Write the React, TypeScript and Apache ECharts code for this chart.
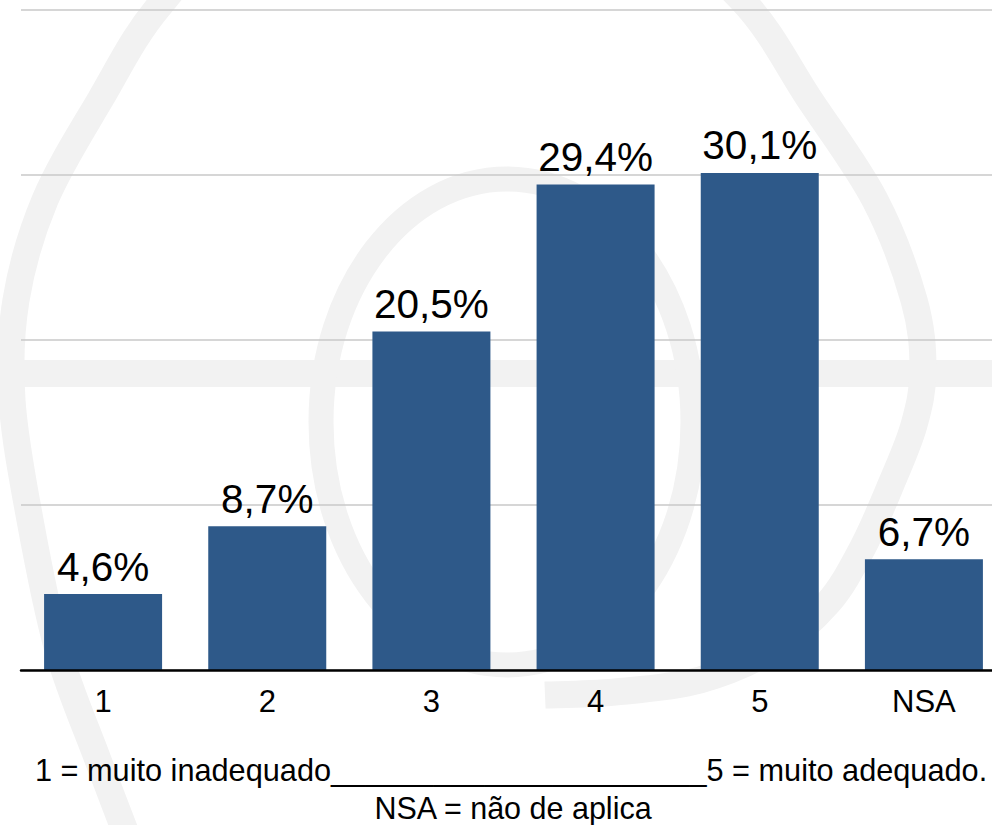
import React, { useEffect, useRef } from "react";
import * as echarts from "echarts";

const categories: string[] = ["1", "2", "3", "4", "5", "NSA"];
const percentValues: number[] = [4.6, 8.7, 20.5, 29.4, 30.1, 6.7];
const yMin = 0;
const yMax = 40;
const yInterval = 10;
const footnoteLine1 = "1 = muito inadequado______________________5 = muito adequado.";
const footnoteLine2 = "NSA = não de aplica";

// faint watermark swoosh (decoration only)
const swooshPts: [number, number][] = [
  [140, 870], [98, 760], [58, 650], [30, 520], [12, 400], [16, 300], [45, 200],
  [100, 100], [160, 5], [260, -90], [450, -140], [630, -90], [742, 0], [810, 100],
  [875, 200], [914, 300], [923, 370], [914, 425], [892, 482], [863, 547],
  [828, 603], [775, 648], [700, 680], [615, 692], [545, 695],
];

function catmullRomPath(pts: [number, number][]): string {
  let d = `M ${pts[0][0]} ${pts[0][1]}`;
  for (let i = 0; i < pts.length - 1; i++) {
    const p0 = pts[i - 1] || pts[i];
    const p1 = pts[i];
    const p2 = pts[i + 1];
    const p3 = pts[i + 2] || p2;
    const c1x = p1[0] + (p2[0] - p0[0]) / 6;
    const c1y = p1[1] + (p2[1] - p0[1]) / 6;
    const c2x = p2[0] - (p3[0] - p1[0]) / 6;
    const c2y = p2[1] - (p3[1] - p1[1]) / 6;
    d += ` C ${c1x} ${c1y} ${c2x} ${c2y} ${p2[0]} ${p2[1]}`;
  }
  return d;
}

let registered = false;
function ensureShapes() {
  if (registered) return;
  echarts.graphic.registerShape(
    "swoosh",
    (echarts.graphic as any).extendPath(catmullRomPath(swooshPts), {})
  );
  registered = true;
}

const fmt = (v: number) => `${v.toFixed(1).replace(".", ",")}%`;

export default function App() {
  const ref = useRef<HTMLDivElement>(null);

  useEffect(() => {
    if (!ref.current) return;
    ensureShapes();
    const chart = echarts.init(ref.current, undefined, { renderer: "svg" });
    const wm = "#f2f2f2";
    const font = "Liberation Sans, Arial, Helvetica, sans-serif";
    chart.setOption({
      animation: false,
      backgroundColor: "#ffffff",
      grid: { left: 21, top: 9.5, width: 985, height: 660.5, containLabel: false },
      xAxis: {
        type: "category",
        data: categories,
        axisLine: { show: true, lineStyle: { color: "#000000", width: 2.5 } },
        axisTick: { show: false },
        axisLabel: { fontSize: 31, color: "#000000", fontFamily: font, margin: 16 },
        z: 5,
      },
      yAxis: {
        type: "value",
        min: yMin,
        max: yMax,
        interval: yInterval,
        axisLabel: { show: false },
        axisLine: { show: false },
        axisTick: { show: false },
        splitLine: { lineStyle: { color: "#c9c9c9", width: 1.5 } },
      },
      series: [
        {
          type: "bar",
          data: percentValues,
          barWidth: 118,
          itemStyle: { color: "#2e5989" },
          label: {
            show: true,
            position: "top",
            distance: 7,
            fontSize: 40.5,
            color: "#000000",
            fontFamily: font,
            formatter: (p: any) => fmt(p.value),
          },
          z: 3,
        },
      ],
      graphic: [
        {
          type: "rect",
          z: -10,
          silent: true,
          shape: { x: 0, y: 360, width: 1010, height: 27 },
          style: { fill: wm },
        },
        {
          type: "ellipse",
          z: -10,
          silent: true,
          shape: { cx: 507, cy: 422, rx: 186, ry: 243 },
          style: { fill: "none", stroke: wm, lineWidth: 25 },
        },
        {
          type: "swoosh",
          z: -10,
          silent: true,
          x: 0,
          y: 0,
          scaleX: 1,
          scaleY: 1,
          style: { fill: "none", stroke: wm, lineWidth: 27 },
        },
        {
          type: "text",
          z: 10,
          x: 35,
          y: 770,
          style: {
            text: footnoteLine1,
            font: `30.7px ${font}`,
            fill: "#000000",
            textAlign: "left",
            textVerticalAlign: "middle",
          },
        },
        {
          type: "text",
          z: 10,
          x: 513,
          y: 808,
          style: {
            text: footnoteLine2,
            font: `30.5px ${font}`,
            fill: "#000000",
            textAlign: "center",
            textVerticalAlign: "middle",
          },
        },
      ],
    });
    return () => chart.dispose();
  }, []);

  return (
    <div
      style={{
        position: "fixed",
        left: 0,
        top: 0,
        width: 992,
        height: 825,
        overflow: "hidden",
        background: "#fff",
      }}
    >
      <div ref={ref} style={{ width: 1010, height: 825 }} />
    </div>
  );
}
